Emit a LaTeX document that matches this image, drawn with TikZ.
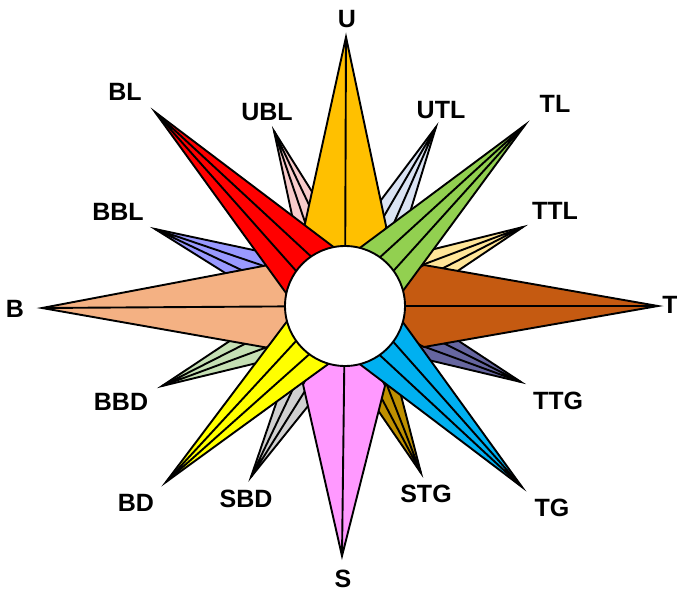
\documentclass[tikz,border=0pt]{standalone}
\usepackage{fontspec}
\setmainfont{Liberation Sans}
\usetikzlibrary{calc}
\definecolor{cU}{RGB}{255,192,0}
\definecolor{cBL}{RGB}{255,0,0}
\definecolor{cUBL}{RGB}{248,203,203}
\definecolor{cUTL}{RGB}{218,227,243}
\definecolor{cTL}{RGB}{146,208,80}
\definecolor{cTTL}{RGB}{255,230,153}
\definecolor{cT}{RGB}{197,90,17}
\definecolor{cTTG}{RGB}{102,102,160}
\definecolor{cTG}{RGB}{0,176,240}
\definecolor{cSTG}{RGB}{191,144,0}
\definecolor{cS}{RGB}{255,153,255}
\definecolor{cSBD}{RGB}{208,208,208}
\definecolor{cBD}{RGB}{255,255,0}
\definecolor{cBBD}{RGB}{197,224,180}
\definecolor{cB}{RGB}{244,177,131}
\definecolor{cBBL}{RGB}{153,153,255}
% #1 tip, #2 colour, #3 half angle, #4 ratio, #5 inner-line angle
\newcommand\rosespike[5]{%
  \filldraw[fill=#2] (#1) -- ($(#1)!#4!#3:(O)$) -- (O) -- ($(#1)!#4!-#3:(O)$) -- cycle;
  \draw (#1) -- ($(#1)!#4!#5:(O)$) (#1) -- ($(#1)!#4!-#5:(O)$);
}
\newcommand\rosecard[2]{%
  \path ($(O)!79pt!(#1)$) coordinate (base#1);
  \filldraw[fill=#2] (#1) -- ($(base#1)!41pt!90:(#1)$) -- (O) -- ($(base#1)!41pt!-90:(#1)$) -- cycle;
  \draw (#1) -- (O);
}
\begin{document}
\begin{tikzpicture}[x=1pt,y=-1pt,line width=1.9pt,line join=miter,
  lbl/.style={font=\fontsize{25}{30}\selectfont\bfseries,inner sep=0pt}]
\useasboundingbox (0,0) rectangle (677,594);
\coordinate (O) at (345,306);
% tips
\coordinate (U) at (346,37);
\coordinate (S) at (342,556);
\coordinate (B) at (42,308);
\coordinate (T) at (658,306);
\coordinate (BL) at (155,112);
\coordinate (TL) at (525,125);
\coordinate (BD) at (166,482);
\coordinate (TG) at (522,487);
\coordinate (UBL) at (274,131);
\coordinate (UTL) at (436,127);
\coordinate (BBL) at (155,229);
\coordinate (TTL) at (523,227);
\coordinate (BBD) at (162,386);
\coordinate (TTG) at (521,382);
\coordinate (SBD) at (251,477);
\coordinate (STG) at (421,473);
% intermediate points
\rosespike{UBL}{cUBL}{10}{0.8}{3.3}
\rosespike{UTL}{cUTL}{10}{0.8}{3.3}
\rosespike{BBL}{cBBL}{10}{0.8}{3.3}
\rosespike{TTL}{cTTL}{10}{0.8}{3.3}
\rosespike{BBD}{cBBD}{10}{0.8}{3.3}
\rosespike{TTG}{cTTG}{10}{0.8}{3.3}
\rosespike{SBD}{cSBD}{10}{0.8}{3.3}
\rosespike{STG}{cSTG}{10}{0.8}{3.3}
% cardinal points
\rosecard{U}{cU}
\rosecard{S}{cS}
\rosecard{B}{cB}
\rosecard{T}{cT}
% diagonal points
\rosespike{BL}{cBL}{8.5}{0.88}{2.8}
\rosespike{TL}{cTL}{8.5}{0.88}{2.8}
\rosespike{BD}{cBD}{8.5}{0.88}{2.8}
\rosespike{TG}{cTG}{8.5}{0.88}{2.8}
% centre
\node[circle,draw,fill=white,minimum size=120pt,inner sep=0pt] (hub) at (O) {};
% labels
\node[lbl] (lU) at (347,19) {U};
\node[lbl] (lS) at (343,579) {S};
\node[lbl] (lB) at (15,309) {B};
\node[lbl] (lT) at (670,305) {T};
\node[lbl] (lBL) at (125,92) {BL};
\node[lbl] (lUBL) at (267,112) {UBL};
\node[lbl] (lUTL) at (441,110) {UTL};
\node[lbl] (lTL) at (555,104) {TL};
\node[lbl] (lBBL) at (118,212) {BBL};
\node[lbl] (lTTL) at (555,211) {TTL};
\node[lbl] (lBBD) at (121,402) {BBD};
\node[lbl] (lTTG) at (558,401) {TTG};
\node[lbl] (lBD) at (136,503) {BD};
\node[lbl] (lSBD) at (246,499) {SBD};
\node[lbl] (lSTG) at (426,494) {STG};
\node[lbl] (lTG) at (552,508) {TG};
\end{tikzpicture}
\end{document}
